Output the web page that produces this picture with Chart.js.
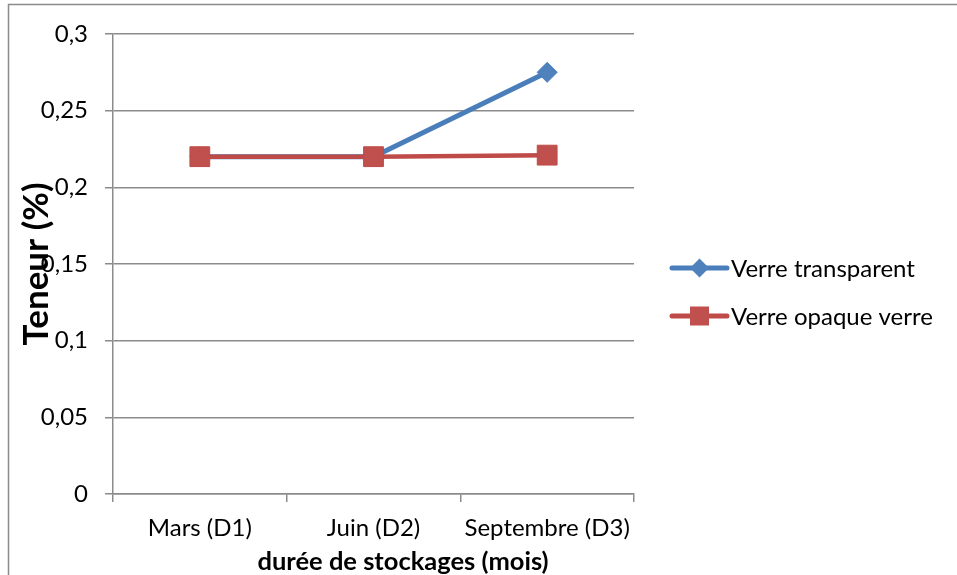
<!DOCTYPE html>
<html>
<head>
<meta charset="utf-8">
<script src="https://cdn.jsdelivr.net/npm/chart.js@4/dist/chart.umd.min.js"></script>
<style>
  html, body { margin: 0; padding: 0; background: #ffffff; }
  canvas { display: block; }
</style>
</head>
<body>
<canvas id="c" width="957" height="575"></canvas>
<script>
// Storage periods (x categories)
const categories = ['Mars (D1)', 'Juin (D2)', 'Septembre (D3)'];
// Content (%) per glass type
const verreTransparent = [0.22, 0.22, 0.275];
const verreOpaque = [0.22, 0.22, 0.221];
const seriesNames = ['Verre transparent', 'Verre opaque verre'];
// Y axis ticks
const yTickValues = [0, 0.05, 0.1, 0.15, 0.2, 0.25, 0.3];
const yTickLabels = ['0', '0,05', '0,1', '0,15', '0,2', '0,25', '0,3'];
const xAxisTitle = 'durée de stockages (mois)';
const yAxisTitle = 'Teneur (%)';

const FONT = 'Lato, "Open Sans", sans-serif';
const GRID = '#8b8b8b';

// Frame around the whole chart object
const framePlugin = {
  id: 'frame',
  beforeDraw(chart) {
    const ctx = chart.ctx;
    ctx.save();
    ctx.strokeStyle = GRID;
    ctx.lineWidth = 1.5;
    ctx.strokeRect(8.5, 4.5, 2000, 2000);
    ctx.restore();
  }
};

// X axis title, placed under the category labels
const xTitlePlugin = {
  id: 'xTitle',
  afterDraw(chart) {
    const ctx = chart.ctx;
    ctx.save();
    ctx.fillStyle = '#000000';
    ctx.font = 'bold 25.5px ' + FONT;
    ctx.textAlign = 'center';
    ctx.textBaseline = 'middle';
    ctx.fillText(xAxisTitle, 403, 562);
    ctx.restore();
  }
};

// Legend with line + marker samples, drawn to the right of the plot
const legendPlugin = {
  id: 'lineLegend',
  afterDraw(chart) {
    const ctx = chart.ctx;
    const x0 = 672, x1 = 727, textX = 731;
    const rows = [268, 316];
    ctx.save();
    chart.data.datasets.forEach((ds, i) => {
      const y = rows[i];
      const cx = (x0 + x1) / 2;
      ctx.strokeStyle = ds.borderColor;
      ctx.lineWidth = 5;
      ctx.lineCap = 'round';
      ctx.beginPath();
      ctx.moveTo(x0, y);
      ctx.lineTo(x1, y);
      ctx.stroke();
      ctx.fillStyle = ds.pointBackgroundColor;
      ctx.beginPath();
      if (ds.pointStyle === 'rect') {
        ctx.rect(cx - 9.5, y - 9.5, 19, 19);
      } else {
        ctx.moveTo(cx, y - 9.5);
        ctx.lineTo(cx + 9.5, y);
        ctx.lineTo(cx, y + 9.5);
        ctx.lineTo(cx - 9.5, y);
        ctx.closePath();
      }
      ctx.fill();
      ctx.fillStyle = '#000000';
      ctx.font = '24px ' + FONT;
      ctx.textAlign = 'left';
      ctx.textBaseline = 'middle';
      ctx.fillText(ds.label, textX, y + 1);
    });
    ctx.restore();
  }
};

new Chart(document.getElementById('c'), {
  type: 'line',
  data: {
    labels: categories,
    datasets: [
      {
        label: seriesNames[0],
        data: verreTransparent,
        borderColor: '#4A7EBB',
        backgroundColor: '#4F81BD',
        pointBackgroundColor: '#4F81BD',
        pointBorderColor: '#4A7EBB',
        pointStyle: 'rectRot',
        pointRadius: 10,
        pointBorderWidth: 1,
        borderWidth: 5,
        tension: 0,
        order: 1
      },
      {
        label: seriesNames[1],
        data: verreOpaque,
        borderColor: '#BE4B48',
        backgroundColor: '#C0504D',
        pointBackgroundColor: '#C0504D',
        pointBorderColor: '#BE4B48',
        pointStyle: 'rect',
        pointRadius: 14,
        pointBorderWidth: 1,
        borderWidth: 4.5,
        tension: 0,
        order: 0
      }
    ]
  },
  options: {
    responsive: false,
    animation: false,
    events: [],
    layout: { padding: { left: 0, right: 323, top: 34, bottom: 0 } },
    plugins: {
      legend: { display: false },
      tooltip: { enabled: false }
    },
    scales: {
      x: {
        type: 'category',
        offset: true,
        afterFit(scale) { scale.height = 81; },
        grid: {
          offset: true,
          drawOnChartArea: false,
          drawTicks: true,
          tickLength: 8,
          color: GRID,
          lineWidth: 1.5
        },
        border: { display: true, color: GRID, width: 1.5 },
        ticks: {
          color: '#000000',
          font: { family: FONT, size: 24 },
          padding: 12,
          maxRotation: 0,
          autoSkip: false
        },
        title: { display: false, text: xAxisTitle }
      },
      y: {
        min: 0,
        max: 0.3,
        afterFit(scale) { scale.width = 113; },
        afterBuildTicks(scale) {
          scale.ticks = yTickValues.map(v => ({ value: v }));
        },
        grid: {
          drawOnChartArea: true,
          drawTicks: true,
          tickLength: 8,
          color: GRID,
          lineWidth: 1.5
        },
        border: { display: true, color: GRID, width: 1.5 },
        ticks: {
          color: '#000000',
          font: { family: FONT, size: 24 },
          padding: 17,
          callback(value, index) { return yTickLabels[index]; }
        },
        title: {
          display: true,
          text: yAxisTitle,
          color: '#000000',
          font: { family: FONT, size: 35, weight: 'bold', lineHeight: 1.2 },
          padding: { top: 16, bottom: 0 }
        }
      }
    }
  },
  plugins: [framePlugin, xTitlePlugin, legendPlugin]
});
</script>
</body>
</html>
